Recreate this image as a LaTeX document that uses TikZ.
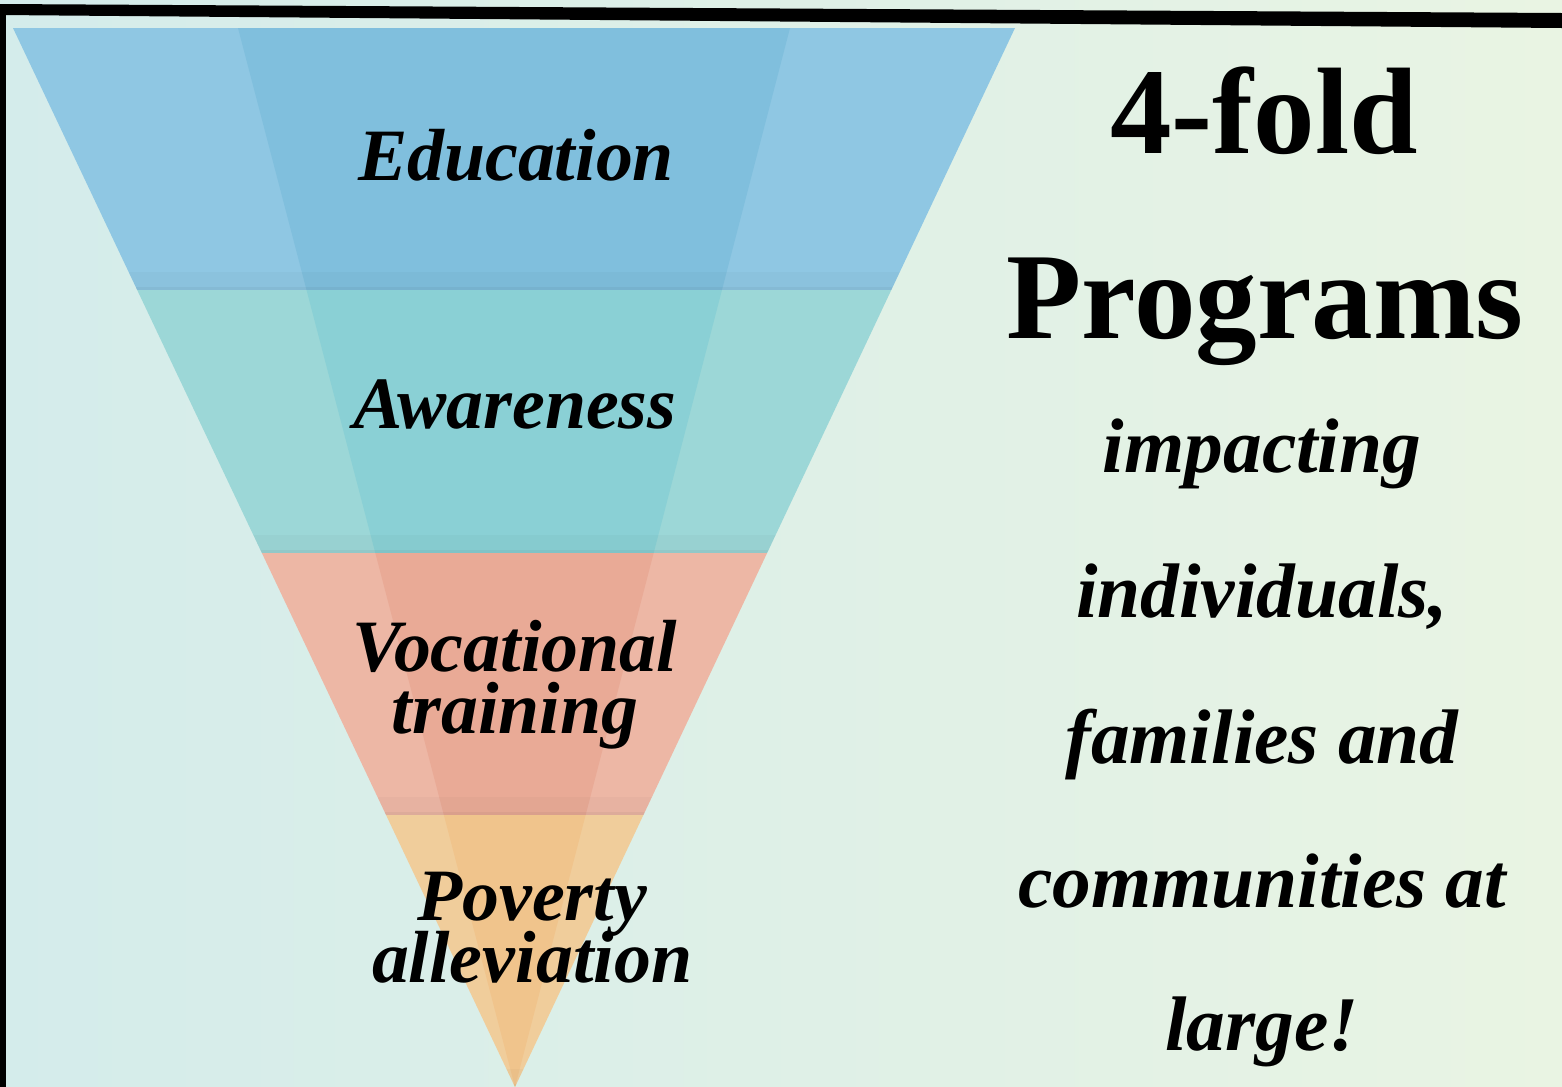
\documentclass[tikz,border=0pt]{standalone}
\usepackage{fontspec}
\setmainfont{Liberation Serif}
\usepackage{xcolor}
\usepackage{tikz}

\definecolor{bgleft}{HTML}{D4ECEB}
\definecolor{bgright}{HTML}{E9F4E3}
\definecolor{eduout}{HTML}{8FC7E3}
\definecolor{eduin}{HTML}{80BFDD}
\definecolor{awaout}{HTML}{9CD7D7}
\definecolor{awain}{HTML}{8AD0D5}
\definecolor{vocout}{HTML}{EDB7A5}
\definecolor{vocin}{HTML}{E9AA96}
\definecolor{povout}{HTML}{F0CD9B}
\definecolor{povin}{HTML}{F0C48C}
\newcommand{\tightskip}{\setlength{\lineskiplimit}{-50pt}}

\begin{document}
\begin{tikzpicture}[x=0.01cm, y=-0.01cm,
	band/.style={font=\fontsize{21}{17.6}\selectfont\tightskip\bfseries\itshape, anchor=base, align=center, inner sep=0pt},
	side/.style={font=\fontsize{22}{26}\selectfont\bfseries\itshape, anchor=base},
	head/.style={font=\fontsize{35}{40}\selectfont\bfseries, anchor=base}]
			\useasboundingbox (0,0) rectangle (1562,1087);
			\shade[left color=bgleft, right color=bgright] (0,0) rectangle (1562,1087);
			% frame
			\fill[black] (0,4) -- (1562,13) -- (1562,28) -- (0,15) -- cycle;
			\fill[black] (0,4) rectangle (6,1087);
			% funnel
			\begin{scope}
				\clip (13,28) -- (1015,28) -- (515,1087) -- cycle;
				\foreach \ya/\yb/\co/\ci in {28/290/eduout/eduin, 290/553/awaout/awain, 553/815/vocout/vocin, 815/1087/povout/povin}{
					\fill[\co] (0,\ya) rectangle (1562,\yb);
					\begin{scope}
						\clip (0,\ya) rectangle (1562,\yb);
						\fill[\ci] (238,28) -- (790,28) -- (515,1087) -- cycle;
					\end{scope}
					\fill[black, opacity=0.025] (0,\yb-18) rectangle (1562,\yb);
					\fill[black, opacity=0.04] (0,\yb-3) rectangle (1562,\yb);
				}
			\end{scope}
			\node[band] (edu) at (516,180) {Education};
			\node[band] (awa) at (515,428) {Awareness};
			\node[band] (voc) at (515,733) {Vocational\\training};
			\node[band] (pov) at (532,982) {Poverty\\alleviation};
			\node[head] (fold) at (1264,153) {4-fold};
			\node[head] (prog) at (1265,338) {Programs};
			\foreach \yy/\txt [count=\i] in {472/impacting, 617/{individuals,}, 763/families and, 907/communities at, 1050/large!}
				\node[side] (line\i) at (1262,\yy) {\txt};
		\end{tikzpicture}
\end{document}
